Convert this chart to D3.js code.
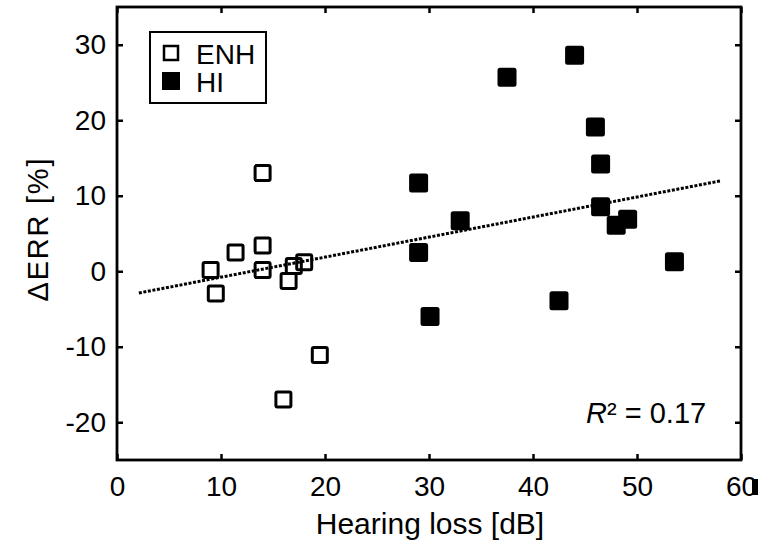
<!DOCTYPE html>
<html>
<head>
<meta charset="utf-8">
<script src="https://cdn.jsdelivr.net/npm/d3@7"></script>
<style>
  body { margin: 0; background: #fff; }
  text { font-family: "Liberation Sans", Arial, sans-serif; fill: #000; }
</style>
</head>
<body>
<div id="chart"></div>
<script>
// ENH group (open squares): hearing loss [dB], delta ERR [%]
var enhLoss = [14, 14, 11.4, 9.0, 9.5, 14, 16.5, 17.0, 18.0, 19.5, 16.0];
var enhErr  = [13.0, 3.4, 2.5, 0.15, -2.95, 0.15, -1.3, 0.7, 1.2, -11.1, -17.0];

// HI group (filled squares)
var hiLoss = [44.0, 37.5, 46.0, 46.5, 29.0, 33.0, 46.5, 48.0, 49.1, 29.0, 53.6, 42.5, 30.1];
var hiErr  = [28.6, 25.7, 19.1, 14.2, 11.7, 6.7, 8.55, 6.1, 6.9, 2.5, 1.25, -3.9, -6.0];

// fit line
var fitRange = [2.1, 58];
var fitSlope = 0.2655, fitIntercept = -3.44;

var xTicks = [0, 10, 20, 30, 40, 50, 60];
var yTicks = [-20, -10, 0, 10, 20, 30];
var legendLabels = ["ENH", "HI"];

var W = 772, H = 544;
var margin = { top: 7, right: 31, bottom: 84, left: 117 },
    width = W - margin.left - margin.right,
    height = H - margin.top - margin.bottom;

var svg = d3.select("#chart").append("svg")
    .attr("width", W)
    .attr("height", H);

var g = svg.append("g")
    .attr("transform", "translate(" + margin.left + "," + margin.top + ")");

var x = d3.scaleLinear().domain([0, 60]).range([0, width]);
var y = d3.scaleLinear().domain([-25, 35]).range([height, 0]);

// plain hyphen minus like the original
var fmt = function(d) { return String(d); };

// axes: inward ticks on all four sides, MATLAB-style box
function styleAxis(sel) {
    sel.select(".domain").remove();
    sel.selectAll(".tick line").attr("stroke", "#000").attr("stroke-width", 2.5);
    sel.selectAll(".tick text").style("font-size", "28px").attr("fill", "#000");
}

g.append("g")
    .attr("transform", "translate(0," + height + ")")
    .call(d3.axisBottom(x).tickValues(xTicks).tickFormat(fmt).tickSizeInner(-6).tickSizeOuter(0).tickPadding(16))
    .call(styleAxis);

g.append("g")
    .call(d3.axisLeft(y).tickValues(yTicks).tickFormat(fmt).tickSizeInner(-6).tickSizeOuter(0).tickPadding(11))
    .call(styleAxis);

g.append("g")
    .call(d3.axisTop(x).tickValues(xTicks).tickSizeInner(-6).tickSizeOuter(0).tickFormat(""))
    .call(styleAxis);

g.append("g")
    .attr("transform", "translate(" + width + ",0)")
    .call(d3.axisRight(y).tickValues(yTicks).tickSizeInner(-6).tickSizeOuter(0).tickFormat(""))
    .call(styleAxis);

g.append("rect")
    .attr("width", width)
    .attr("height", height)
    .attr("fill", "none")
    .attr("stroke", "#000")
    .attr("stroke-width", 2.8);

// little black artifact right of the "60" label
g.append("rect")
    .attr("x", x(60) + 11)
    .attr("y", height + 19)
    .attr("width", 6)
    .attr("height", 16)
    .attr("fill", "#000");

// fit line
g.append("line")
    .attr("x1", x(fitRange[0]))
    .attr("y1", y(fitSlope * fitRange[0] + fitIntercept))
    .attr("x2", x(fitRange[1]))
    .attr("y2", y(fitSlope * fitRange[1] + fitIntercept))
    .attr("stroke", "#000")
    .attr("stroke-width", 3)
    .attr("stroke-dasharray", "3,1.6");

// ENH open squares
var s1 = 15;
g.selectAll(".enh")
    .data(enhLoss)
    .enter().append("rect")
    .attr("class", "enh")
    .attr("x", function(d) { return x(d) - s1 / 2; })
    .attr("y", function(d, i) { return y(enhErr[i]) - s1 / 2; })
    .attr("width", s1)
    .attr("height", s1)
    .attr("rx", 1.5)
    .attr("fill", "none")
    .attr("stroke", "#000")
    .attr("stroke-width", 3);

// HI filled squares
var s2 = 19;
g.selectAll(".hi")
    .data(hiLoss)
    .enter().append("rect")
    .attr("class", "hi")
    .attr("x", function(d) { return x(d) - s2 / 2; })
    .attr("y", function(d, i) { return y(hiErr[i]) - s2 / 2; })
    .attr("width", s2)
    .attr("height", s2)
    .attr("rx", 2.5)
    .attr("fill", "#000");

// legend
var legend = g.append("g").attr("transform", "translate(33,25)");
legend.append("rect")
    .attr("width", 116)
    .attr("height", 71)
    .attr("fill", "#fff")
    .attr("stroke", "#000")
    .attr("stroke-width", 2);

legend.append("rect")
    .attr("x", 14).attr("y", 14)
    .attr("width", 14).attr("height", 14)
    .attr("fill", "none").attr("stroke", "#000").attr("stroke-width", 2.5);
legend.append("rect")
    .attr("x", 12).attr("y", 40)
    .attr("width", 18).attr("height", 18)
    .attr("fill", "#000");

legend.selectAll(".lt")
    .data(legendLabels)
    .enter().append("text")
    .attr("class", "lt")
    .attr("x", 46)
    .attr("y", function(d, i) { return 32 + i * 28; })
    .style("font-size", "28px")
    .text(function(d) { return d; });

// R^2 annotation
var r2 = g.append("text")
    .attr("x", x(45.1))
    .attr("y", y(-20) + 1)
    .style("font-size", "29px");
r2.append("tspan").style("font-style", "italic").text("R");
r2.append("tspan").text("² = 0.17");

// axis titles
svg.append("text")
    .attr("x", 430)
    .attr("y", 534)
    .attr("text-anchor", "middle")
    .style("font-size", "30px")
    .text("Hearing loss [dB]");

svg.append("text")
    .attr("transform", "translate(48,230) rotate(-90)")
    .attr("text-anchor", "middle")
    .attr("textLength", 143)
    .attr("lengthAdjust", "spacing")
    .style("font-size", "29px")
    .text("ΔERR [%]");
</script>
</body>
</html>
